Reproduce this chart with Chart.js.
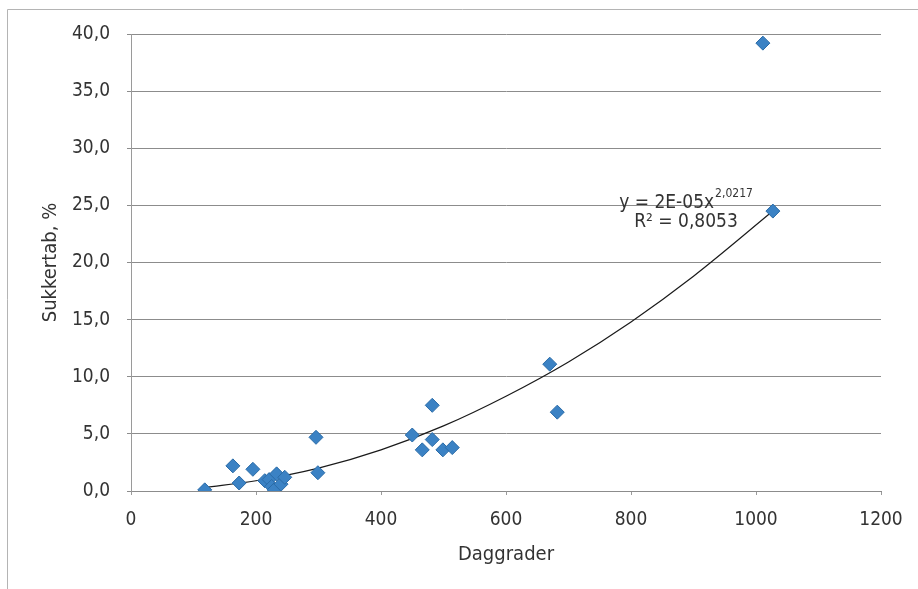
<!DOCTYPE html>
<html>
<head>
<meta charset="utf-8">
<script src="https://cdn.jsdelivr.net/npm/chart.js@4/dist/chart.umd.min.js"></script>
<style>
  html, body { margin: 0; padding: 0; background: #fff; }
  #wrap { position: relative; width: 918px; height: 589px; }
</style>
</head>
<body>
<div id="wrap"><canvas id="chart" width="918" height="589"></canvas></div>
<script>
// Observations: degree days vs sugar loss (%)
const degreeDays = [118, 163, 173, 195, 214, 221, 225, 229, 233, 240, 246, 296, 299, 450, 466, 482, 482, 499, 514, 670, 682, 1011, 1027];
const sugarLoss = [0.1, 2.2, 0.7, 1.9, 0.9, 1.0, 0.4, 0.1, 1.5, 0.6, 1.2, 4.7, 1.6, 4.9, 3.6, 7.5, 4.5, 3.6, 3.8, 11.1, 6.9, 39.2, 24.5];

// Power trendline
const trendX = [118, 200, 300, 400, 500, 600, 700, 800, 900, 1027];
const trendY = [0.3, 0.9, 2.0, 3.6, 5.7, 8.3, 11.3, 14.8, 18.8, 24.5];

const xTicks = [0, 200, 400, 600, 800, 1000, 1200];
const yTicks = [0, 5, 10, 15, 20, 25, 30, 35, 40];

const FONT = '"Liberation Sans Narrow", "DejaVu Sans Condensed", "Liberation Sans", sans-serif';
const TEXT = '#333333';

const points = degreeDays.map((x, i) => ({ x, y: sugarLoss[i] }));
const trend = trendX.map((x, i) => ({ x, y: trendY[i] }));

// outer frame (only left and top edges are inside the picture)
const framePlugin = {
  id: 'frame',
  beforeDraw(chart) {
    const ctx = chart.ctx;
    ctx.save();
    ctx.fillStyle = '#fff';
    ctx.fillRect(0, 0, chart.width, chart.height);
    ctx.strokeStyle = '#b4b4b4';
    ctx.lineWidth = 1;
    ctx.beginPath();
    ctx.moveTo(7.5, chart.height);
    ctx.lineTo(7.5, 9.5);
    ctx.lineTo(chart.width, 9.5);
    ctx.stroke();
    ctx.restore();
  }
};

// trendline equation label
const equationPlugin = {
  id: 'equation',
  afterDatasetsDraw(chart) {
    const { ctx, scales: { x, y } } = chart;
    const left = x.getPixelForValue(781);
    const base = y.getPixelForValue(25.2);
    ctx.save();
    ctx.fillStyle = TEXT;
    ctx.textBaseline = 'middle';
    ctx.textAlign = 'left';
    ctx.font = '19px ' + FONT;
    const main = 'y = 2E-05x';
    ctx.fillText(main, left, base);
    const w = ctx.measureText(main).width;
    ctx.font = '12px ' + FONT;
    ctx.fillText('2,0217', left + w + 1, base - 9);
    ctx.font = '19px ' + FONT;
    ctx.textAlign = 'center';
    ctx.fillText('R\u00B2 = 0,8053', x.getPixelForValue(888), y.getPixelForValue(23.5));
    ctx.restore();
  }
};

const fmt = (v) => v.toFixed(1).replace('.', ',');

new Chart(document.getElementById('chart'), {
  type: 'scatter',
  data: {
    datasets: [
      {
        label: 'Sukkertab',
        data: points,
        pointStyle: 'rectRot',
        pointRadius: 7,
        pointBackgroundColor: '#3b82c4',
        pointBorderColor: '#2b6ca8',
        pointBorderWidth: 1,
        order: 1,
      },
      {
        label: 'Trend',
        data: trend,
        showLine: true,
        borderColor: '#1a1a1a',
        borderWidth: 1.2,
        pointRadius: 0,
        cubicInterpolationMode: 'monotone',
        fill: false,
        order: 2,
      },
    ],
  },
  options: {
    responsive: false,
    animation: false,
    events: [],
    layout: { padding: { top: 34, right: 37, left: 0, bottom: 0 } },
    plugins: {
      legend: { display: false },
      tooltip: { enabled: false },
    },
    scales: {
      x: {
        type: 'linear',
        min: 0,
        max: 1200,
        afterBuildTicks: (s) => { s.ticks = xTicks.map((v) => ({ value: v })); },
        afterFit: (s) => { s.height = 98; },
        grid: { drawOnChartArea: false, drawTicks: true, tickLength: 4, color: '#9a9a9a' },
        border: { color: '#8c8c8c', width: 1 },
        ticks: { color: TEXT, font: { family: FONT, size: 19 }, padding: 14, maxRotation: 0, callback: (v) => String(v) },
        title: {
          display: true,
          text: 'Daggrader',
          color: TEXT,
          font: { family: FONT, size: 20 },
          padding: { top: 0, bottom: 22 },
        },
      },
      y: {
        type: 'linear',
        min: 0,
        max: 40,
        afterBuildTicks: (s) => { s.ticks = yTicks.map((v) => ({ value: v })); },
        afterFit: (s) => { s.width = 131; },
        grid: { color: '#8c8c8c', lineWidth: 1, tickLength: 4 },
        border: { color: '#9a9a9a', width: 1 },
        ticks: { color: TEXT, font: { family: FONT, size: 19 }, padding: 17, callback: (v) => fmt(v) },
        title: {
          display: true,
          text: 'Sukkertab, %',
          color: TEXT,
          font: { family: FONT, size: 20 },
          padding: { top: 39, bottom: 0 },
        },
      },
    },
  },
  plugins: [framePlugin, equationPlugin],
});
</script>
</body>
</html>
